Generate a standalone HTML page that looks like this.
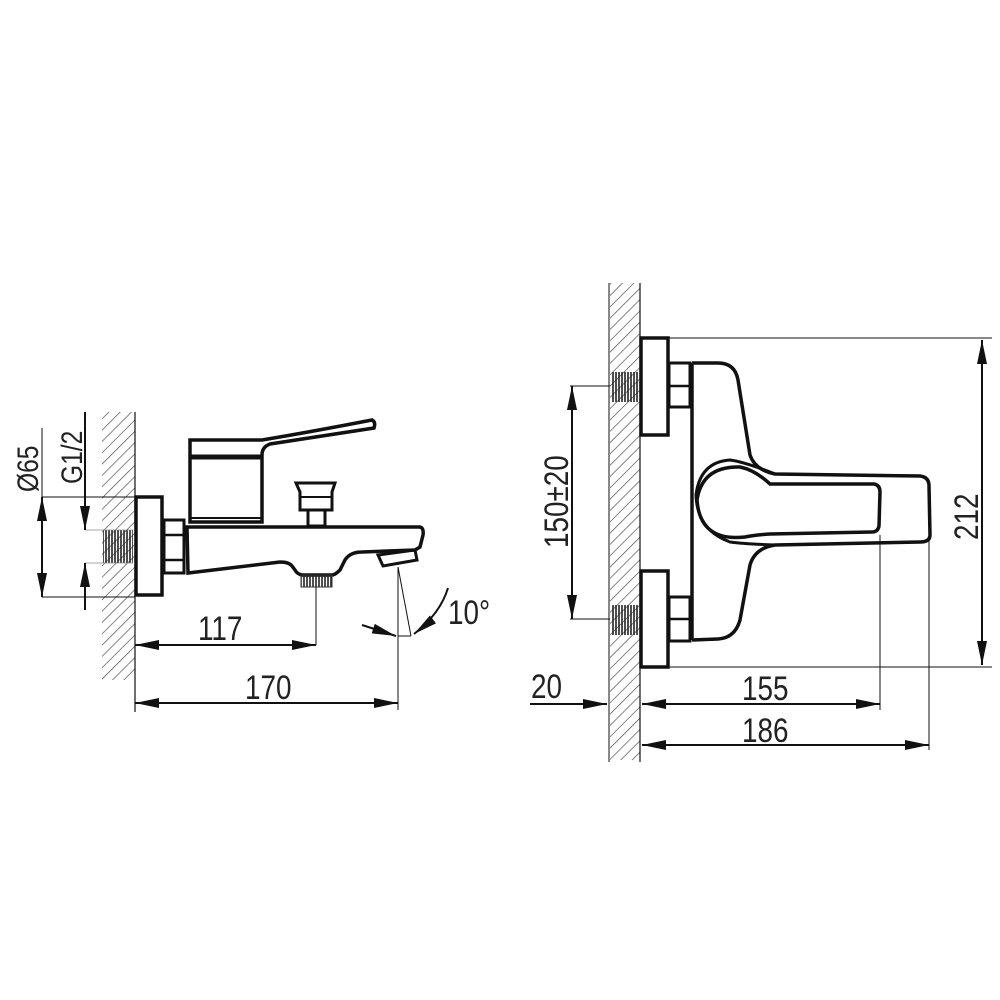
<!DOCTYPE html>
<html><head><meta charset="utf-8"><style>html,body{margin:0;padding:0;background:#fff}svg{display:block}</style></head>
<body>
<svg width="1000" height="1000" viewBox="0 0 1000 1000" xmlns="http://www.w3.org/2000/svg" font-family="Liberation Sans, sans-serif">
<defs>
<pattern id="h" width="8" height="8" patternUnits="userSpaceOnUse" patternTransform="rotate(45)">
<line x1="0" y1="0" x2="0" y2="8" stroke="#444" stroke-width="1.3"/>
</pattern>
<pattern id="t" width="3" height="10" patternUnits="userSpaceOnUse">
<line x1="1" y1="0" x2="1" y2="10" stroke="#222" stroke-width="1.6"/>
</pattern>
<marker id="a" viewBox="0 0 24 10" refX="24" refY="5" markerWidth="24" markerHeight="10" markerUnits="userSpaceOnUse" orient="auto-start-reverse">
<path d="M0,0 L24,5 L0,10 Z" fill="#111"/>
</marker>
</defs>
<g fill="none" stroke="#111">
<rect x="102" y="412" width="33" height="268" fill="url(#h)" stroke="none"/>
<line x1="135" y1="412" x2="135" y2="712" stroke-width="1.2"/>
<rect x="103" y="530" width="30" height="33" fill="url(#t)" stroke="none"/>
<line x1="85" y1="530" x2="133" y2="530" stroke-width="0.8" stroke="#888"/>
<line x1="85" y1="563" x2="133" y2="563" stroke-width="0.8" stroke="#888"/>
<rect x="136" y="497" width="26" height="98" stroke-width="3.5"/>
<rect x="164" y="520" width="20" height="53" stroke-width="3"/>
<line x1="164" y1="535" x2="184" y2="535" stroke-width="2.5"/>
<line x1="164" y1="560" x2="184" y2="560" stroke-width="2.5"/>
<path d="M187,527 L420,527 Q424,528 423,535 L420,547 L415,550 L362,552 Q350,552 345,560 L340,570 Q335,575 332,575 L302,575 Q297,574 295,570 L292,566 Q289,562 280,562 L188,573 Z" stroke-width="3.5"/>
<path d="M378,555 L415,550 L417,560 L383,566 Z" stroke-width="3"/>
<rect x="301" y="575" width="31" height="12" fill="url(#t)" stroke="#333" stroke-width="1"/>
<path d="M190,459 L190,440 L262,440 Q310,432 372,420 Q376,422 374,428 L270,444 Q262,447 262,455 L262,522 L190,522 Z" stroke-width="3.5"/>
<line x1="190" y1="457" x2="262" y2="457" stroke-width="5"/>
<line x1="190" y1="518" x2="262" y2="518" stroke-width="2"/>
<path d="M296,483 L335,483 L332,492 L332,510 L300,510 L300,492 Z" stroke-width="3"/>
<line x1="300" y1="497" x2="332" y2="497" stroke-width="2"/>
<rect x="308" y="510" width="17" height="16" stroke-width="3"/>
<line x1="42" y1="497" x2="135" y2="497" stroke-width="1"/>
<line x1="42" y1="597" x2="135" y2="597" stroke-width="1"/>
<line x1="42" y1="428" x2="42" y2="497" stroke-width="1"/>
<line x1="42" y1="497" x2="42" y2="597" stroke-width="2" marker-start="url(#a)" marker-end="url(#a)"/>
<line x1="85" y1="412" x2="85" y2="530" stroke-width="2" marker-end="url(#a)"/>
<line x1="85" y1="610" x2="85" y2="563" stroke-width="2" marker-end="url(#a)"/>
<line x1="316" y1="587" x2="316" y2="645" stroke-width="1"/>
<line x1="398" y1="567" x2="398" y2="710" stroke-width="1"/>
<line x1="135" y1="645" x2="316" y2="645" stroke-width="2" marker-start="url(#a)" marker-end="url(#a)"/>
<line x1="135" y1="703" x2="398" y2="703" stroke-width="2" marker-start="url(#a)" marker-end="url(#a)"/>
<line x1="398" y1="567" x2="411" y2="636" stroke-width="1"/>
<line x1="398" y1="636" x2="411" y2="636" stroke-width="1"/>
<path d="M362,625 L396,636" stroke-width="2" marker-end="url(#a)"/>
<path d="M448,588 Q440,614 414,634" stroke-width="2" marker-end="url(#a)"/>
<rect x="610" y="283" width="30" height="477" fill="url(#h)" stroke="none"/>
<line x1="640" y1="283" x2="640" y2="762" stroke-width="1.2"/>
<line x1="609" y1="283" x2="609" y2="762" stroke-width="1"/>
<rect x="611" y="372" width="28" height="30" fill="url(#t)" stroke="none"/>
<rect x="611" y="605" width="28" height="30" fill="url(#t)" stroke="none"/>
<rect x="641" y="338" width="27" height="97" stroke-width="3.5"/>
<rect x="641" y="571" width="27" height="96" stroke-width="3.5"/>
<rect x="669" y="363" width="21" height="44" stroke-width="3"/>
<line x1="669" y1="386" x2="690" y2="386" stroke-width="2.5"/>
<rect x="669" y="597" width="21" height="44" stroke-width="3"/>
<line x1="669" y1="619" x2="690" y2="619" stroke-width="2.5"/>
<line x1="692" y1="363" x2="692" y2="640" stroke-width="3.5"/>
<path d="M692,363 L718,363 Q735,363 738,380 L750,455 Q755,470 775,474 L920,476 Q929,477 929,486 L930,535 Q930,542 920,542 L775,545 Q755,548 750,565 L740,620 Q735,638 718,639 L692,640" stroke-width="3.5"/>
<path d="M775,474 Q745,462 730,460 Q700,462 696,495 Q697,530 730,542 Q745,544 775,545" stroke-width="3"/>
<path d="M770,484 L874,484 Q880,485 880,492 L879,526 Q878,532 872,532 L770,534 Q755,535 745,537 Q700,542 697,500 Q702,466 740,467 Q755,470 770,484 Z" stroke-width="3.5"/>
<line x1="668" y1="338" x2="992" y2="338" stroke-width="1"/>
<line x1="668" y1="667" x2="992" y2="667" stroke-width="1"/>
<line x1="982" y1="340" x2="982" y2="665" stroke-width="2" marker-start="url(#a)" marker-end="url(#a)"/>
<line x1="570" y1="386" x2="610" y2="386" stroke-width="1"/>
<line x1="570" y1="619" x2="610" y2="619" stroke-width="1"/>
<line x1="572" y1="386" x2="572" y2="619" stroke-width="2" marker-start="url(#a)" marker-end="url(#a)"/>
<line x1="530" y1="704" x2="607" y2="704" stroke-width="2" marker-end="url(#a)"/>
<line x1="880" y1="535" x2="880" y2="710" stroke-width="1"/>
<line x1="929" y1="540" x2="929" y2="750" stroke-width="1"/>
<line x1="642" y1="704" x2="880" y2="704" stroke-width="2" marker-start="url(#a)" marker-end="url(#a)"/>
<line x1="642" y1="745" x2="929" y2="745" stroke-width="2" marker-start="url(#a)" marker-end="url(#a)"/>
</g>
<g fill="#222" font-size="34">
<text transform="translate(38,492) rotate(-90) scale(0.82,1)" font-size="30">Ø65</text>
<text transform="translate(82,484) rotate(-90) scale(0.82,1)" font-size="30">G1/2</text>
<text transform="translate(198,640) scale(0.82,1)">117</text>
<text transform="translate(245,699) scale(0.82,1)">170</text>
<text transform="translate(448,624) scale(0.82,1)">10°</text>
<text transform="translate(531,698) scale(0.82,1)">20</text>
<text transform="translate(742,700) scale(0.82,1)">155</text>
<text transform="translate(742,742) scale(0.82,1)">186</text>
<text transform="translate(568,548) rotate(-90) scale(0.82,1)">150±20</text>
<text transform="translate(978,540) rotate(-90) scale(0.82,1)">212</text>
</g>
</svg>
</body></html>
